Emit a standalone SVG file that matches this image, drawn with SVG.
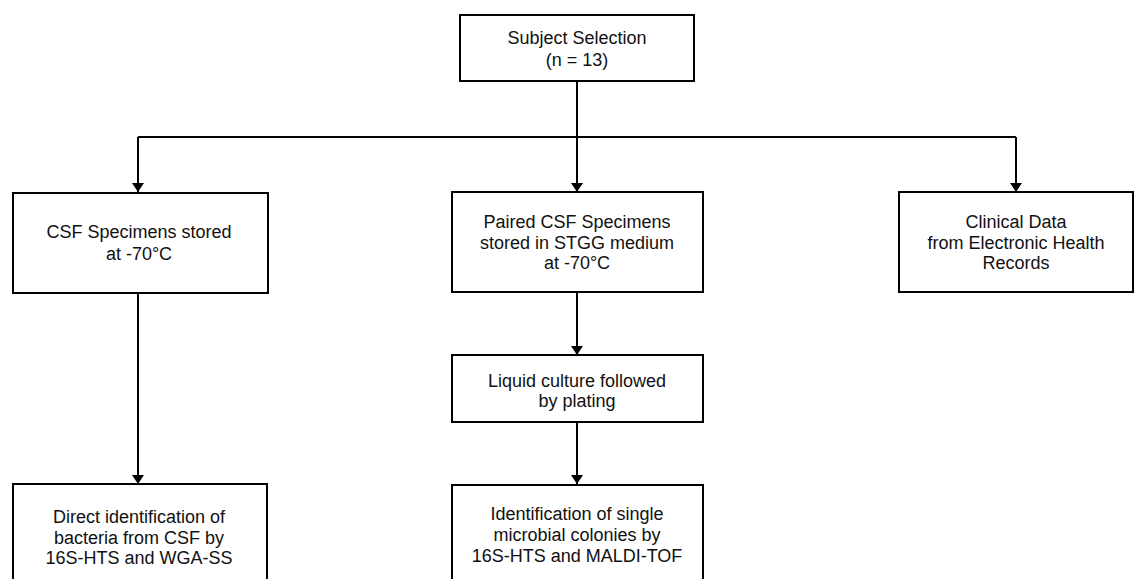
<svg xmlns="http://www.w3.org/2000/svg" width="1135" height="579" viewBox="0 0 1135 579">
<style>
.box{fill:#fff;stroke:#000;stroke-width:2}
.t{font-family:"Liberation Sans",Arial,sans-serif;font-size:18px;fill:#111;text-anchor:middle}
.c{fill:none;stroke:#000;stroke-width:2}
</style>
<defs>
<marker id="ah" markerWidth="12" markerHeight="9" refX="6" refY="9" markerUnits="userSpaceOnUse" viewBox="0 0 12 9">
<path d="M0,0 L12,0 L6,9 Z" fill="#000"/>
</marker>
</defs>
<rect width="1135" height="579" fill="#fff"/>
<g id="connectors">
<path class="c" d="M577,81 V137"/>
<path class="c" d="M138,137 H1016"/>
<path class="c" d="M138,137 V192" marker-end="url(#ah)"/>
<path class="c" d="M577,137 V192" marker-end="url(#ah)"/>
<path class="c" d="M1016,137 V192" marker-end="url(#ah)"/>
<path class="c" d="M577,292 V355" marker-end="url(#ah)"/>
<path class="c" d="M577,422 V484" marker-end="url(#ah)"/>
<path class="c" d="M138,293 V484" marker-end="url(#ah)"/>
</g>
<g id="subject">
<rect class="box" x="460" y="15" width="234" height="66"/>
<text class="t" x="577" y="44">Subject Selection</text>
<text class="t" x="577" y="66">(n = 13)</text>
</g>
<g id="csf">
<rect class="box" x="13" y="193" width="255" height="100"/>
<text class="t" x="139" y="238">CSF Specimens stored</text>
<text class="t" x="139" y="260">at -70°C</text>
</g>
<g id="paired">
<rect class="box" x="452" y="192" width="251" height="100"/>
<text class="t" x="577" y="228">Paired CSF Specimens</text>
<text class="t" x="577" y="249">stored in STGG medium</text>
<text class="t" x="577" y="269">at -70°C</text>
</g>
<g id="clinical">
<rect class="box" x="899" y="192" width="234" height="100"/>
<text class="t" x="1016" y="228">Clinical Data</text>
<text class="t" x="1016" y="249">from Electronic Health</text>
<text class="t" x="1016" y="269">Records</text>
</g>
<g id="liquid">
<rect class="box" x="452" y="355" width="251" height="67"/>
<text class="t" x="577" y="387">Liquid culture followed</text>
<text class="t" x="577" y="407">by plating</text>
</g>
<g id="direct">
<rect class="box" x="13" y="484" width="254" height="110"/>
<text class="t" x="139" y="523">Direct identification of</text>
<text class="t" x="139" y="544">bacteria from CSF by</text>
<text class="t" x="139" y="564">16S-HTS and WGA-SS</text>
</g>
<g id="identification">
<rect class="box" x="452" y="485" width="251" height="110"/>
<text class="t" x="577" y="520">Identification of single</text>
<text class="t" x="577" y="541">microbial colonies by</text>
<text class="t" x="577" y="562">16S-HTS and MALDI-TOF</text>
</g>
</svg>
